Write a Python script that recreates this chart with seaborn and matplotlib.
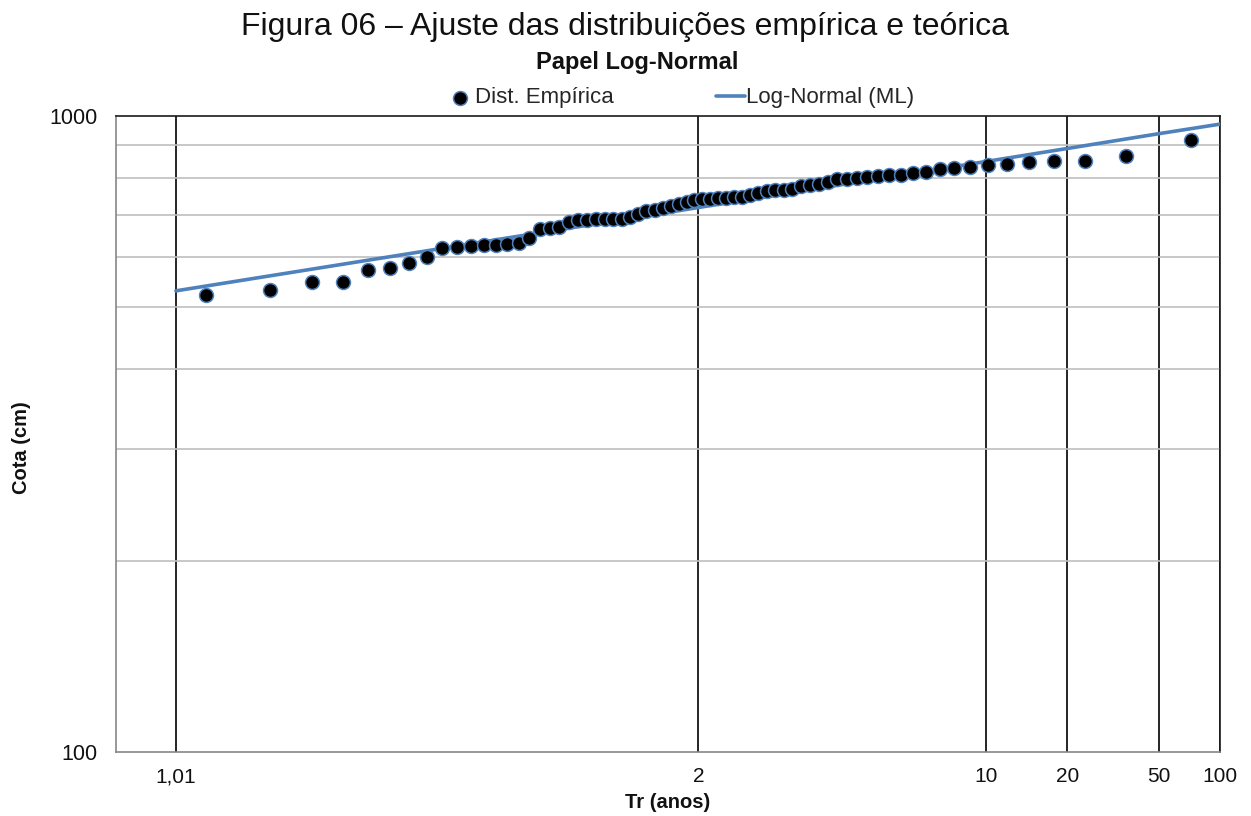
import numpy as np
import pandas as pd
import matplotlib
matplotlib.use("Agg")
import matplotlib.pyplot as plt
import matplotlib.ticker as mticker
import seaborn as sns
from statistics import NormalDist

# ---------------- data ----------------
# observed annual maxima (cm), sorted ascending, read from the chart
cota_empirica = [523, 533, 548, 548, 573, 577, 588, 600, 619, 623,
                 625, 627, 627, 628, 631, 642, 664, 667, 670, 682,
                 686, 686, 688, 688, 688, 689, 693, 701, 709, 712,
                 718, 723, 727, 733, 738, 740, 741, 742, 744, 745,
                 747, 751, 758, 762, 765, 765, 768, 775, 778, 781,
                 788, 797, 797, 799, 801, 804, 808, 809, 814, 817,
                 824, 827, 830, 836, 841, 848, 851, 851, 866, 917]
# theoretical Log-Normal (ML) quantiles
tr_teorico = [1.01, 2, 10, 20, 50, 100]
cota_teorica = [531, 718, 848, 889, 938, 971]

x_ticks = [1.01, 2, 10, 20, 50, 100]
x_ticklabels = ["1,01", "2", "10", "20", "50", "100"]
y_ticks = [100, 1000]
y_ticklabels = ["100", "1000"]

# Weibull plotting position (empirical return period)
n = len(cota_empirica)
rank = np.arange(1, n + 1)
tr_empirico = (n + 1) / (n + 1 - rank)

df_emp = pd.DataFrame({"Tr": tr_empirico, "Cota": cota_empirica})
df_teo = pd.DataFrame({"Tr": tr_teorico, "Cota": cota_teorica})

# ---------------- probability-paper scale ----------------
_nd = NormalDist()
_ppf = np.vectorize(_nd.inv_cdf, otypes=[float])
_cdf = np.vectorize(_nd.cdf, otypes=[float])


def fwd(tr):
    tr = np.asarray(tr, dtype=float)
    p = 1.0 - 1.0 / np.clip(tr, 1.0 + 1e-12, 1e12)
    p = np.clip(p, 1e-12, 1 - 1e-12)
    return _ppf(p)


def inv(z):
    z = np.asarray(z, dtype=float)
    z = np.clip(z, -7, 7)
    return 1.0 / np.clip(1.0 - _cdf(z), 1e-12, None)


sns.set_theme(style="white")
plt.rcParams["font.family"] = ["Liberation Sans", "DejaVu Sans"]

W, H = 1251, 816
fig = plt.figure(figsize=(W / 100, H / 100), dpi=100)
L, R, T, B = 116, 1220, 116, 752
ax = fig.add_axes([L / W, 1 - B / H, (R - L) / W, (B - T) / H])

ax.set_xscale("function", functions=(fwd, inv))
ax.set_yscale("log")

line_col = "#4F81BD"
sns.lineplot(data=df_teo, x="Tr", y="Cota", ax=ax, color=line_col,
             linewidth=2.6, label="Log-Normal (ML)", zorder=3,
             sort=False, estimator=None)
sns.scatterplot(data=df_emp, x="Tr", y="Cota", ax=ax, color="black",
                edgecolor=line_col, linewidth=1.1, s=100,
                label="Dist. Empírica", zorder=4)

ax.set_xlim(inv(fwd(1.01) - (176 - L) / 224.5), 100)
ax.set_ylim(100, 1000)

ax.xaxis.set_major_locator(mticker.FixedLocator(x_ticks))
ax.xaxis.set_major_formatter(mticker.FixedFormatter(x_ticklabels))
ax.xaxis.set_minor_locator(mticker.NullLocator())
ax.yaxis.set_major_locator(mticker.FixedLocator(y_ticks))
ax.yaxis.set_major_formatter(mticker.FixedFormatter(y_ticklabels))
ax.yaxis.set_minor_locator(mticker.FixedLocator(list(range(200, 1000, 100))))
ax.yaxis.set_minor_formatter(mticker.NullFormatter())

ax.grid(False)
ax.grid(True, which="minor", axis="y", color="#bfbfbf", linewidth=1.2)
ax.grid(True, which="major", axis="x", color="black", linewidth=1.2)

ax.tick_params(axis="x", which="both", length=0, labelsize=15, pad=11,
               colors="#111111")
ax.tick_params(axis="y", which="major", length=7, width=1.2, color="#868686",
               labelsize=15.5, pad=6, labelcolor="#111111", direction="out")
ax.tick_params(axis="y", which="minor", length=0)

for s in ["left", "bottom"]:
    ax.spines[s].set_color("#868686")
    ax.spines[s].set_linewidth(1.2)
for s in ["top", "right"]:
    ax.spines[s].set_color("#1a1a1a")
    ax.spines[s].set_linewidth(1.2)

ax.set_xlabel("")
ax.set_ylabel("")
fig.text((L + R) / 2 / W, 1 - 802 / H, "Tr (anos)", ha="center", va="center",
         fontsize=14.5, fontweight="bold", color="#111111")
fig.text(22 / W, 1 - 448 / H, "Cota (cm)", ha="center", va="center",
         rotation=90, fontsize=14.5, fontweight="bold", color="#111111")

fig.text(625 / W, 1 - 27 / H, "Figura 06 – Ajuste das distribuições empírica e teórica",
         ha="center", va="center", fontsize=23, color="#111111")
fig.text(637 / W, 1 - 62 / H, "Papel Log-Normal", ha="center", va="center",
         fontsize=17, fontweight="bold", color="#111111")

handles, labels = ax.get_legend_handles_labels()
order = [labels.index("Dist. Empírica"), labels.index("Log-Normal (ML)")]
if ax.legend_:
    ax.legend_.remove()
fig.legend([handles[i] for i in order], [labels[i] for i in order],
           loc="center", bbox_to_anchor=(680 / W, 1 - 98 / H), ncol=2,
           frameon=False, fontsize=16, handlelength=1.3, handletextpad=0.05,
           columnspacing=4.6, borderaxespad=0, markerscale=1.0)

fig.savefig("out.png", dpi=100)
